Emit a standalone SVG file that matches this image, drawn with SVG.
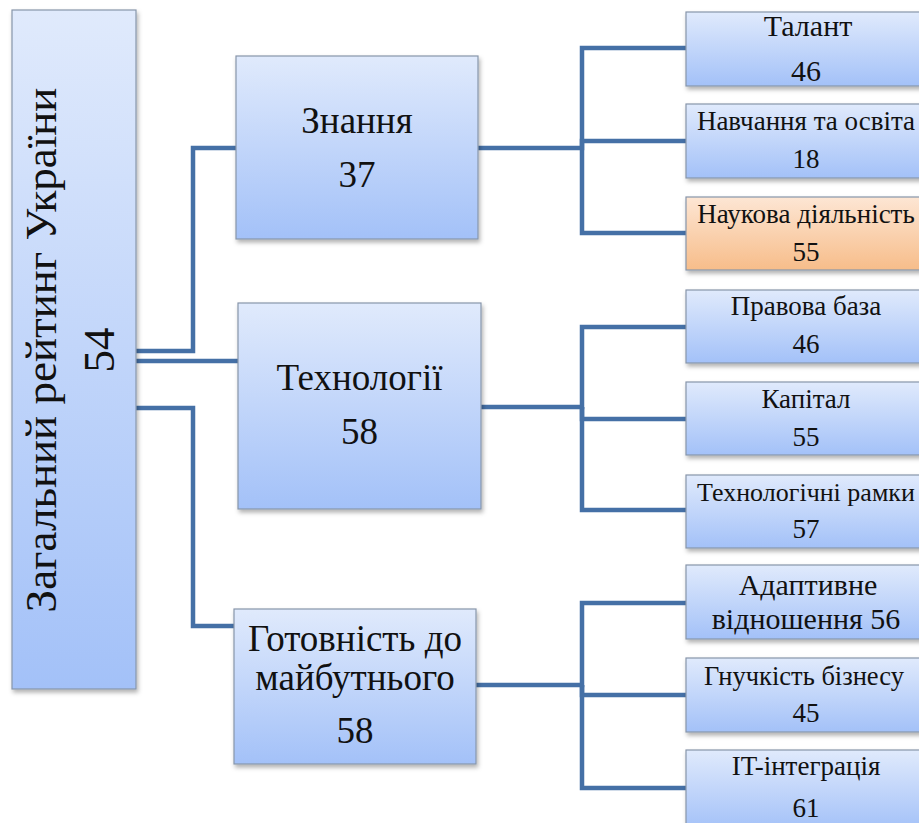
<svg xmlns="http://www.w3.org/2000/svg" width="919" height="823" viewBox="0 0 919 823">
<defs>
<linearGradient id="gb" x1="0" y1="0" x2="0" y2="1">
<stop offset="0" stop-color="#e0eafc"/>
<stop offset="1" stop-color="#a3c1f8"/>
</linearGradient>
<linearGradient id="go" x1="0" y1="0" x2="0" y2="1">
<stop offset="0" stop-color="#fde6d4"/>
<stop offset="1" stop-color="#f7bd8a"/>
</linearGradient>
<filter id="sh" x="-10%" y="-10%" width="130%" height="130%">
<feDropShadow dx="1.5" dy="3" stdDeviation="2" flood-color="#000" flood-opacity="0.3"/>
</filter>
<style>
.b{fill:url(#gb);stroke:#8796aa;stroke-width:1.2;filter:url(#sh)}
.o{fill:url(#go);stroke:#8796aa;stroke-width:1.2;filter:url(#sh)}
.t{fill:#111;text-anchor:middle}
.c{fill:none;stroke:#4570a6;stroke-width:4.5}
.m{font-size:37px}
.l{font-size:27px}
</style>
</defs>
<rect width="919" height="823" fill="#fff"/>
<g id="connectors">
<polyline class="c" points="136,351 193,351 193,148 236,148"/>
<polyline class="c" points="136,361 238,361"/>
<polyline class="c" points="136,408 193,408 193,626 234,626"/>
<polyline class="c" points="478,148 582,148 582,48 686,48"/>
<polyline class="c" points="582,148 582,141 686,141"/>
<polyline class="c" points="582,148 582,233 686,233"/>
<polyline class="c" points="481,407 582,407 582,327 686,327"/>
<polyline class="c" points="582,407 582,419 686,419"/>
<polyline class="c" points="582,407 582,510 686,510"/>
<polyline class="c" points="476,685 582,685 582,603 686,603"/>
<polyline class="c" points="582,685 582,695 686,695"/>
<polyline class="c" points="582,685 582,788 686,788"/>
</g>
<g font-family="Liberation Serif, Tinos, DejaVu Serif, serif">
<g id="root">
<rect class="b" x="12" y="10" width="124" height="679"/>
<text class="t" font-size="45" transform="translate(56,350) rotate(-90)">Загальний рейтинг України</text>
<text class="t" font-size="45" transform="translate(114,350) rotate(-90)">54</text>
</g>
<g id="znannia">
<rect class="b" x="236" y="56" width="242" height="183"/>
<text class="t m" x="357" y="133">Знання</text>
<text class="t m" x="357" y="187">37</text>
</g>
<g id="tekhnolohii">
<rect class="b" x="238" y="303" width="243" height="206"/>
<text class="t m" x="359.5" y="390">Технології</text>
<text class="t m" x="359.5" y="444">58</text>
</g>
<g id="hotovnist">
<rect class="b" x="234" y="609" width="242" height="155"/>
<text class="t m" x="355" y="651">Готовність до</text>
<text class="t m" x="355" y="690">майбутнього</text>
<text class="t m" x="355" y="743">58</text>
</g>
<g id="talant">
<rect class="b" x="686" y="12" width="240" height="74"/>
<text class="t" font-size="30" x="808" y="36">Талант</text>
<text class="t" font-size="30" x="806" y="81">46</text>
</g>
<g id="navchannia">
<rect class="b" x="686" y="104" width="240" height="74"/>
<text class="t l" x="806" y="130">Навчання та освіта</text>
<text class="t l" x="806" y="168">18</text>
</g>
<g id="naukova">
<rect class="o" x="686" y="197" width="240" height="73"/>
<text class="t l" x="806" y="223">Наукова діяльність</text>
<text class="t l" x="806" y="261">55</text>
</g>
<g id="pravova">
<rect class="b" x="686" y="290" width="240" height="73"/>
<text class="t l" x="806" y="315">Правова база</text>
<text class="t l" x="806" y="353">46</text>
</g>
<g id="kapital">
<rect class="b" x="686" y="382" width="240" height="73"/>
<text class="t l" x="806" y="408">Капітал</text>
<text class="t l" x="806" y="446">55</text>
</g>
<g id="ramky">
<rect class="b" x="686" y="475" width="240" height="73"/>
<text class="t" font-size="26" x="806" y="501">Технологічні рамки</text>
<text class="t l" x="806" y="538">57</text>
</g>
<g id="adaptyvne">
<rect class="b" x="686" y="565" width="240" height="74"/>
<text class="t" font-size="30" x="808" y="595">Адаптивне</text>
<text class="t" font-size="30" x="806" y="629">відношення 56</text>
</g>
<g id="hnuchkist">
<rect class="b" x="686" y="658" width="240" height="74"/>
<text class="t" font-size="26.5" x="804" y="685">Гнучкість бізнесу</text>
<text class="t l" x="806" y="722">45</text>
</g>
<g id="it">
<rect class="b" x="686" y="750" width="240" height="80"/>
<text class="t l" x="806" y="775">IT-інтеграція</text>
<text class="t l" x="806" y="817">61</text>
</g>
</g>
</svg>
